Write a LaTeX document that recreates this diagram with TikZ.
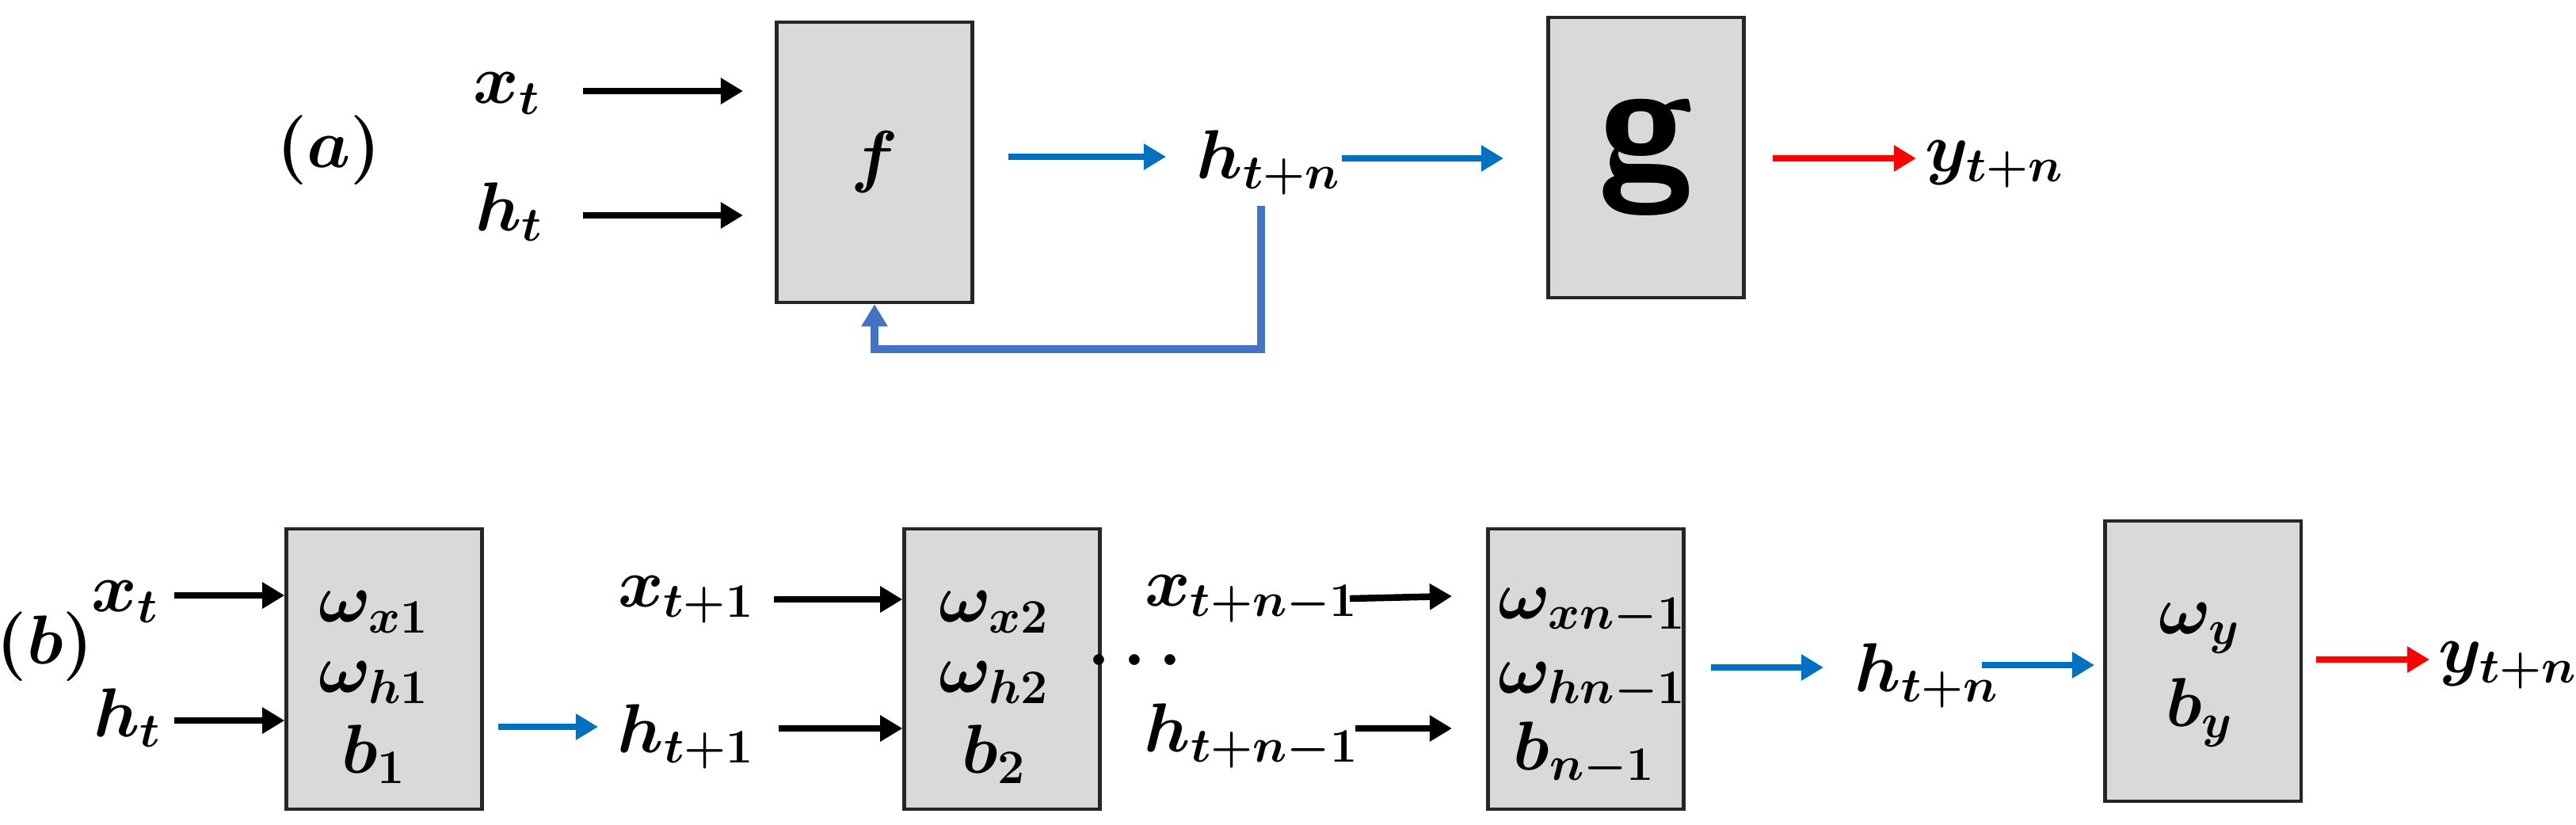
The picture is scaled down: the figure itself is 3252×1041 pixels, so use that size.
\documentclass[tikz,border=0pt]{standalone}
\usepackage{amsmath,bm}
\usetikzlibrary{arrows.meta}
\definecolor{ablue}{RGB}{0,112,192}
\definecolor{fblue}{RGB}{68,114,196}
\definecolor{boxgray}{RGB}{217,217,217}
\begin{document}
\mathversion{bold}
\begin{tikzpicture}[x=0.01cm,y=-0.01cm,
  box/.style={draw=black!85,line width=1.2pt,fill=boxgray,minimum width=2.47cm,minimum height=3.54cm,inner sep=0pt},
  lbl/.style={font=\fontsize{24}{28}\selectfont,inner sep=0pt},
  arr/.style={line width=2.4pt,-{Triangle[length=8pt,width=9pt]}},
  barr/.style={arr,ablue},
  rarr/.style={arr,red}]
\useasboundingbox (0,0) rectangle (3252,1041);
% (a)
\node[lbl] (la) at (415,190) {$(a)$};
\node[lbl] (xa) at (640,118) {$x_t$};
\node[lbl] (ha) at (643,268) {$h_t$};
\node[box] (f) at (1104,205) {};
\node[font=\fontsize{62}{70}\selectfont] at (f) {$f$};
\draw[arr] (736,115) -- (938,115);
\draw[arr] (736,272) -- (938,272);
\node[lbl,anchor=west] (hna) at (1510,205) {$h_{t+n}$};
\node[box] (g) at (2078,199) {};
\node[font=\fontsize{62}{70}\selectfont\bfseries\sffamily] at (g) {g};
\draw[barr] (1273,198) -- (1472,198);
\draw[barr] (1694,200) -- (1898,200);
\node[lbl,anchor=west] (ya) at (2430,207) {$y_{t+n}$};
\draw[rarr] (2238,200) -- (2419,200);
\draw[fblue,line width=2.6pt,-{Triangle[length=8pt,width=9pt]}] (1592,260) -- (1592,441) -- (1104,441) -- (f.south);
% (b)
\node[lbl] (lb) at (57,817) {$(b)$};
\node[lbl] (x1) at (158,760) {$x_t$};
\node[lbl] (h1) at (161,907) {$h_t$};
\node[box] (b1) at (485,845) {};
\node[lbl] at (472,773) {$\omega_{x1}$};
\node[lbl] at (472,862) {$\omega_{h1}$};
\node[lbl] at (472,953) {$b_1$};
\draw[arr] (220,752) -- (b1.west|-0,752);
\draw[arr] (220,910) -- (b1.west|-0,910);
\node[lbl] (x2) at (866,757) {$x_{t+1}$};
\node[lbl] (h2) at (866,930) {$h_{t+1}$};
\draw[barr] (629,918) -- (755,918);
\node[box] (b2) at (1265,845) {};
\node[lbl] at (1255,773) {$\omega_{x2}$};
\node[lbl] at (1255,862) {$\omega_{h2}$};
\node[lbl] at (1255,953) {$b_2$};
\draw[arr] (977,757) -- (b2.west|-0,757);
\draw[arr] (983,920) -- (b2.west|-0,920);
\node[lbl] (dots) at (1441,835) {$\cdots$};
\node[lbl] (x3) at (1580,757) {$x_{t+n-1}$};
\node[lbl] (h3) at (1580,930) {$h_{t+n-1}$};
\node[box] (b3) at (2002,845) {};
\node[lbl] at (2010,773) {$\omega_{xn-1}$};
\node[lbl] at (2010,867) {$\omega_{hn-1}$};
\node[lbl] at (2000,953) {$b_{n-1}$};
\draw[arr] (1704,756) -- (1833,753);
\draw[arr] (1711,920) -- (1833,920);
\draw[barr] (2160,843) -- (2302,843);
\node[lbl,anchor=west] (hn) at (2341,853) {$h_{t+n}$};
\node[box] (b4) at (2781,835) {};
\node[lbl] at (2777,793) {$\omega_y$};
\node[lbl] at (2777,900) {$b_y$};
\draw[barr] (2502,840) -- (2644,840);
\draw[rarr] (2924,833) -- (3067,833);
\node[lbl,anchor=west] (yb) at (3078,840) {$y_{t+n}$};
\end{tikzpicture}
\end{document}
